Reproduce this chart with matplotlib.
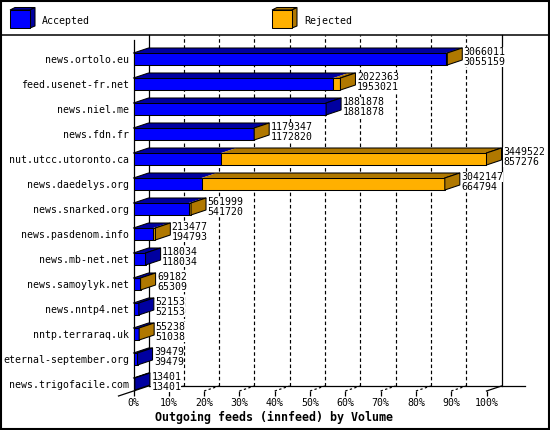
import numpy as np
import matplotlib
matplotlib.use("Agg")
import matplotlib.pyplot as plt
from matplotlib.patches import Rectangle, Polygon

# innfeed outgoing feeds, top to bottom
hosts = ["news.ortolo.eu", "feed.usenet-fr.net", "news.niel.me", "news.fdn.fr",
         "nut.utcc.utoronto.ca", "news.daedelys.org", "news.snarked.org",
         "news.pasdenom.info", "news.mb-net.net", "news.samoylyk.net",
         "news.nntp4.net", "nntp.terraraq.uk", "eternal-september.org",
         "news.trigofacile.com"]
offered = [3066011, 2022363, 1881878, 1179347, 3449522, 3042147, 561999,
           213477, 118034, 69182, 52153, 55238, 39479, 13401]
accepted = [3055159, 1953021, 1881878, 1172820, 857276, 664794, 541720,
            194793, 118034, 65309, 52153, 51038, 39479, 13401]
pct_ticks = list(range(0, 101, 10))

BLUE = "#0000ff"
BLUE_D = "#0000a0"
ORANGE = "#ffb000"
ORANGE_D = "#b07800"

scale = max(offered)
acc_pct = np.array(accepted) / scale * 100
tot_pct = np.array(offered) / scale * 100
n = len(hosts)
ypos = np.arange(n)[::-1]

# fake 3d depth (data units) and half bar height
dx, dy, h = 4.25, 0.2, 0.24
y0, ytop = -0.28, 13.76
top = ytop + dy

plt.rcParams['font.family'] = 'DejaVu Sans Mono'
plt.rcParams['font.size'] = 7.1

fig = plt.figure(figsize=(5.5, 4.3), dpi=100)

# overlay in pixel coords for frame + legend + title
ov = fig.add_axes([0, 0, 1, 1])
ov.set_xlim(0, 550)
ov.set_ylim(430, 0)
ov.axis('off')
ov.add_patch(Rectangle((0.7, 0.7), 548.6, 428.6, fill=False, lw=1.5, ec='k'))
ov.plot([0, 550], [35, 35], color='k', lw=1.1)
for x, c, cd, lab in [(10, BLUE, BLUE_D, "Accepted"), (272, ORANGE, ORANGE_D, "Rejected")]:
    ov.add_patch(Polygon([(x, 10), (x + 20, 10), (x + 25, 7.5), (x + 5, 7.5)], fc=cd, ec='k', lw=0.75))
    ov.add_patch(Polygon([(x + 20, 10), (x + 25, 7.5), (x + 25, 26), (x + 20, 28)], fc=cd, ec='k', lw=0.75))
    ov.add_patch(Rectangle((x, 10), 20, 18, fc=c, ec='k', lw=0.75))
    ov.text(x + 32, 24, lab, ha='left', va='baseline')
ov.text(274, 420.5, "Outgoing feeds (innfeed) by Volume", ha='center', va='baseline',
        fontweight='bold', fontsize=8.4)

ax = fig.add_axes([133.5 / 550, 39 / 430, 353 / 550, 351 / 430])
ax.patch.set_visible(False)
ax.set_xlim(0, 100)
ax.set_ylim(y0, ytop)
for s in ax.spines.values():
    s.set_visible(False)

# walls and floor
kw = dict(color='k', lw=0.9, clip_on=False, zorder=1)
ax.plot([dx, dx], [y0 + dy, top], **kw)
ax.plot([100 + dx, 100 + dx], [y0 + dy, top], **kw)
ax.plot([0, 0], [y0, ytop], **kw)
ax.plot([dx, 110.9], [y0 + dy, y0 + dy], **kw)
ax.plot([-dx, dx], [y0 - dy, y0 + dy], **kw)
ax.plot([100, 100 + dx], [y0, y0 + dy], **kw)
for p in pct_ticks[1:-1]:
    ax.plot([p + dx, p + dx], [y0 + dy, top], color='k', lw=0.85, ls=(0, (3, 2.2)),
            clip_on=False, zorder=1)
    ax.plot([p, p + dx], [y0, y0 + dy], color='k', lw=0.85, ls=(0, (2, 2)),
            clip_on=False, zorder=1)

ax.set_xticks(pct_ticks)
ax.set_xticklabels([f"{p}%" for p in pct_ticks])
ax.tick_params(axis='x', length=3.6, width=0.9, direction='out', pad=1.5)
ax.set_yticks(ypos)
ax.set_yticklabels(hosts)
ax.tick_params(axis='y', length=0, pad=3)

for y, a, t, off, acc in zip(ypos, acc_pct, tot_pct, offered, accepted):
    yb, yt = y - h, y + h
    ax.barh(y, a, height=2 * h, left=0, color=BLUE, edgecolor='k', lw=0.75, zorder=3)
    ax.fill([0, a, a + dx, dx], [yt, yt, yt + dy, yt + dy], color=BLUE_D, lw=0,
            zorder=3, clip_on=False)
    side = BLUE_D
    if t > a:
        ax.barh(y, t - a, height=2 * h, left=a, color=ORANGE, edgecolor='k', lw=0.75, zorder=3)
        ax.fill([a, t, t + dx, a + dx], [yt, yt, yt + dy, yt + dy], color=ORANGE_D, lw=0,
                zorder=3, clip_on=False)
        side = ORANGE_D
    ax.plot([0, dx, t + dx, t], [yt, yt + dy, yt + dy, yt], color='k', lw=0.75,
            zorder=4, clip_on=False)
    ax.fill([t, t + dx, t + dx, t], [yb, yb + dy, yt + dy, yt], facecolor=side,
            edgecolor='k', lw=0.75, zorder=4, clip_on=False)
    bb = dict(facecolor='white', edgecolor='none', pad=0)
    ax.text(t + dx + 0.4, y + 0.16, str(off), ha='left', va='baseline', zorder=5,
            clip_on=False, bbox=bb)
    ax.text(t + dx + 0.4, y - 0.24, str(acc), ha='left', va='baseline', zorder=5,
            clip_on=False, bbox=bb)

fig.savefig("out.png", dpi=100)
